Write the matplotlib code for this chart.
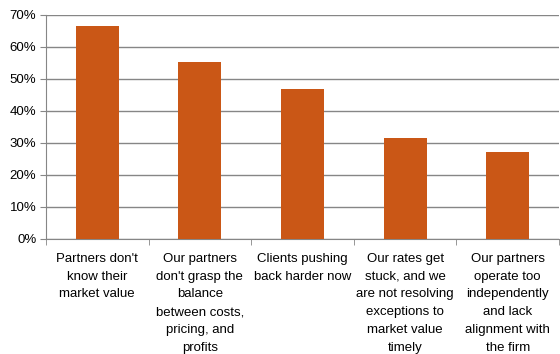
import matplotlib
matplotlib.use("Agg")
import matplotlib.pyplot as plt
from matplotlib.ticker import FixedLocator, PercentFormatter

plt.rcParams['font.family'] = ['Liberation Sans', 'DejaVu Sans']

categories = [
    "Partners don't\nknow their\nmarket value",
    "Our partners\ndon't grasp the\nbalance\nbetween costs,\npricing, and\nprofits",
    "Clients pushing\nback harder now",
    "Our rates get\nstuck, and we\nare not resolving\nexceptions to\nmarket value\ntimely",
    "Our partners\noperate too\nindependently\nand lack\nalignment with\nthe firm",
]
values = [66.5, 55.2, 46.8, 31.5, 27.1]

fig = plt.figure(figsize=(5.6, 3.54), dpi=100)
ax = fig.add_axes([46 / 560, 1 - 238.7 / 354, 513 / 560, 224 / 354])

x = range(len(values))
ax.bar(x, values, width=0.42, color='#CA5716', zorder=3)

ax.set_ylim(0, 70)
ax.set_xlim(-0.5, len(values) - 0.5)
ax.set_yticks(range(0, 71, 10))
ax.yaxis.set_major_formatter(PercentFormatter(decimals=0))
ax.grid(axis='y', color='#868686', linewidth=1, zorder=0)

ax.set_xticks(list(x))
ax.set_xticklabels(categories, fontsize=9.5, linespacing=1.66, va='top')
ax.xaxis.set_minor_locator(FixedLocator([i - 0.5 for i in range(len(values) + 1)]))
ax.tick_params(axis='x', which='major', length=0, pad=10)
ax.tick_params(axis='x', which='minor', length=4, color='#868686')
ax.tick_params(axis='y', length=4, color='#868686', labelsize=9.5, pad=3)

for s in ['top', 'right']:
    ax.spines[s].set_visible(False)
ax.spines['left'].set_color('#868686')
ax.spines['bottom'].set_color('#868686')

fig.savefig('out.png', dpi=100)
